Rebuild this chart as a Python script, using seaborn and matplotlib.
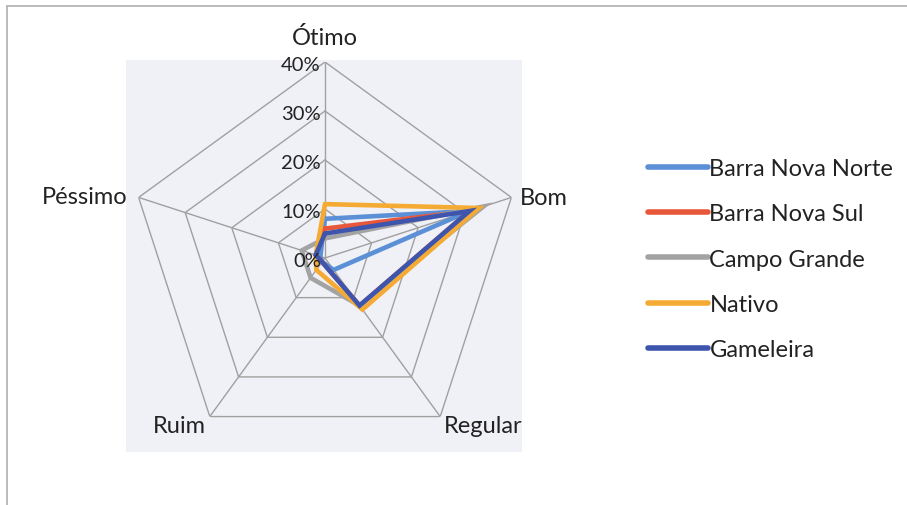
import numpy as np
import pandas as pd
import matplotlib.pyplot as plt
import seaborn as sns
from matplotlib.patches import Rectangle
from matplotlib.lines import Line2D

# ============================================================
# Data (percent of answers per category)
# ============================================================

categorias = ["Ótimo", "Bom", "Regular", "Ruim", "Péssimo"]

locais = ["Barra Nova Norte", "Barra Nova Sul", "Campo Grande", "Nativo", "Gameleira"]

barra_nova_norte = [8, 31, 3, 1, 1]
barra_nova_sul = [6, 31, 12, 1, 2]
campo_grande = [4, 34, 12, 5, 5]
nativo = [11, 33, 13, 3, 2]
gameleira = [5, 31, 12, 1, 2]

r_ticks = [0, 10, 20, 30, 40]

cores = ["#5b8fd6", "#e8573a", "#a3a3a3", "#f5ab33", "#3d55ad"]

# ============================================================
# Long table for seaborn (polygon closed on first category)
# ============================================================

n = len(categorias)
theta = 2 * np.pi * np.arange(n + 1) / n

rows = []
for local, vals in zip(locais, [barra_nova_norte, barra_nova_sul,
                                campo_grande, nativo, gameleira]):
    closed = list(vals) + [vals[0]]
    for t, v in zip(theta, closed):
        rows.append({"local": local, "theta": t, "valor": v})
df = pd.DataFrame(rows)

# ============================================================
# Figure
# ============================================================

sns.set_theme(style="white")
plt.rcParams["font.family"] = ["Lato", "DejaVu Sans"]

TXT = "#222222"
GRID = "#a0a0a0"

W, H = 907, 506
fig = plt.figure(figsize=(W / 100, H / 100), dpi=100)
fig.patch.set_facecolor("white")

# plot-area shading and chart border
fig.patches.append(Rectangle((126 / W, 1 - 453 / H), (522 - 126) / W, (453 - 61) / H,
                             transform=fig.transFigure, facecolor="#f0f0f7",
                             edgecolor="none", zorder=-5))
fig.add_artist(Line2D([7 / W, 1], [1 - 7 / H, 1 - 7 / H], color="#b5b5b5", lw=1.3))
fig.add_artist(Line2D([7 / W, 7 / W], [0, 1 - 7 / H], color="#b5b5b5", lw=1.3))

cx, cy, R = 325, 259, 196
ax = fig.add_axes([(cx - R) / W, (H - cy - R) / H, 2 * R / W, 2 * R / H],
                  projection="polar")
ax.set_zorder(2)
ax.set_theta_zero_location("N")
ax.set_theta_direction(-1)
ax.patch.set_alpha(0)
ax.spines["polar"].set_visible(False)
ax.grid(False)

# pentagon grid + spokes
for r in r_ticks[1:]:
    ax.plot(theta, [r] * (n + 1), color=GRID, lw=1.0, zorder=1)
for t in theta[:-1]:
    ax.plot([t, t], [0, r_ticks[-1]], color=GRID, lw=1.0, zorder=1)

n0 = len(ax.lines)
sns.lineplot(
    data=df,
    x="theta",
    y="valor",
    hue="local",
    hue_order=locais,
    palette=cores,
    sort=False,
    estimator=None,
    linewidth=3.3,
    legend=False,
    ax=ax,
)
data_lines = ax.lines[n0:]
for ln in data_lines:
    ln.set_zorder(3)
    ln.set_solid_joinstyle("miter")

ax.set_ylim(0, r_ticks[-1])
ax.set_xticks([])
ax.set_yticks([])
ax.set_xlabel("")
ax.set_ylabel("")

# radial labels
for r in r_ticks:
    ax.annotate(f"{r}%", xy=(0, r), xytext=(-3, -1.5), textcoords="offset points",
                ha="right", va="center", fontsize=14.5, color=TXT,
                annotation_clip=False, zorder=5)

# category labels
offsets = [((0, 18), "center"), ((6, 0), "left"), ((3, -6.5), "left"),
           ((-3, -6.5), "right"), ((-8, 0.7), "right")]
for cat, t, (off, ha) in zip(categorias, theta[:-1], offsets):
    ax.annotate(cat, xy=(t, r_ticks[-1]), xytext=off, textcoords="offset points",
                ha=ha, va="center", fontsize=17, color=TXT,
                annotation_clip=False)

fig.legend(
    data_lines,
    locais,
    loc="upper left",
    bbox_to_anchor=(648 / W, 1 - 159 / H),
    frameon=False,
    fontsize=17,
    handlelength=2.55,
    handletextpad=0.05,
    labelspacing=1.03,
    borderpad=0,
    borderaxespad=0,
    labelcolor=TXT,
)
for h in fig.legends[0].legend_handles:
    h.set_linewidth(4)

fig.savefig("out.png", dpi=100)
